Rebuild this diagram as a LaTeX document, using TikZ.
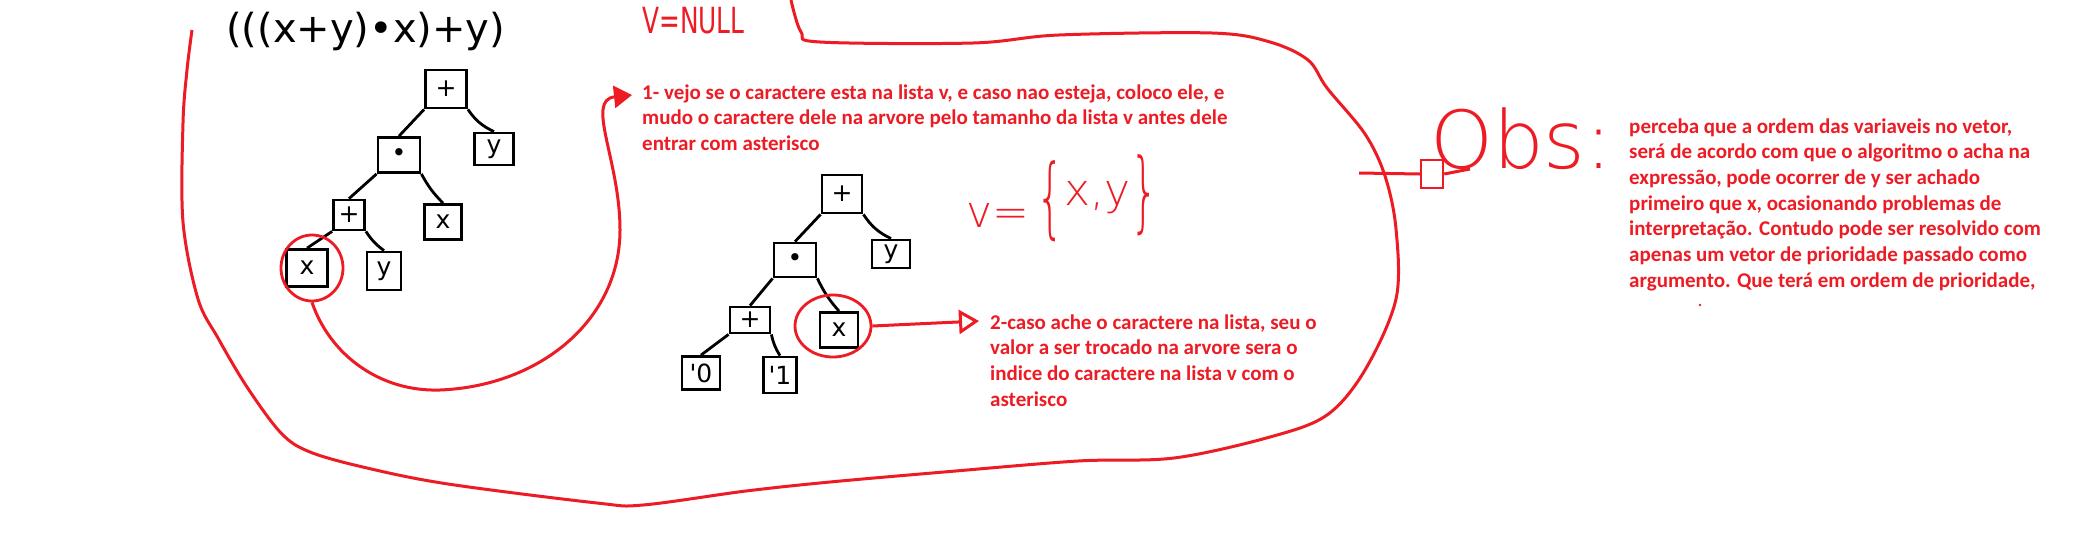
\documentclass[tikz,border=0pt]{standalone}
\usepackage{fontspec}
\usetikzlibrary{arrows.meta,shapes.geometric}
\setmainfont{Carlito}
\newfontfamily\hand{DejaVu Sans}
\IfFontExistsTF{DejaVu Sans ExtraLight}{\newfontfamily\handthin{DejaVu Sans ExtraLight}}{\newfontfamily\handthin{DejaVu Sans}}
\definecolor{pred}{RGB}{237,28,36}
\begin{document}
\begin{tikzpicture}[x=1pt,y=-1pt,
  tbox/.style={draw, line width=2.8pt, minimum width=38pt, minimum height=35pt, inner sep=0pt, font=\hand\fontsize{25}{25}\selectfont},
  tedge/.style={line width=2.8pt},
  redl/.style={draw=pred, line width=3pt},
  rcirc/.style={draw=pred, line width=2.8pt, ellipse, inner sep=0pt},
  note/.style={text=pred, font=\fontsize{21}{25.7}\selectfont\bfseries, align=left, anchor=north west, inner sep=0pt},
  hw/.style={anchor=base west, inner sep=0pt}]
\useasboundingbox (0,0) rectangle (2084,552);
\fill[white] (0,0) rectangle (2084,552);

% expression and V=NULL
\node[hw, font=\hand\fontsize{40}{40}\selectfont] (expr) at (226,42) {(((x+y)•x)+y)};
\node[hw, text=pred, font=\hand\fontsize{36}{36}\selectfont] (vnull) at (642,33) {\scalebox{0.69}[1]{V=NULL}};

% big outline
\draw[redl] plot[smooth, tension=0.55] coordinates {(192,30) (187,70) (183,123) (183,222) (198,299) (218,338) (247,387) (281,433) (310,452) (367,468) (448,484) (597,503) (643,505) (746,491) (830,482) (944,472) (1078,461) (1174,458) (1270,437) (1327,415) (1365,370) (1396,299) (1396,229) (1385,176) (1365,134) (1327,88) (1308,60) (1270,42) (1212,33) (1059,35) (973,43) (820,42) (801,32) (791,0)};

% tree 1
\node[tbox, minimum width=41pt, minimum height=38pt] (a1) at (446,89) {+};
\node[tbox, minimum width=42pt, minimum height=35pt] (a2) at (399,155) {•};
\node[tbox, minimum width=39pt, minimum height=32pt] (a3) at (494,149) {y};
\node[tbox, minimum width=31pt, minimum height=30pt] (a4) at (349,215) {+};
\node[tbox, minimum width=37pt, minimum height=35pt] (a5) at (443,222) {x};
\node[tbox, minimum width=41pt, minimum height=37pt] (a6) at (307,268) {x};
\node[tbox, minimum width=34pt, minimum height=38pt] (a7) at (384,271) {y};
\draw[tedge] (a1.south west) -- (a2.north);
\draw[tedge] (a1.south east) to[bend right=15] (a3.north);
\draw[tedge] (a2.south west) -- (a4.north);
\draw[tedge] (a2.south east) to[bend right=8] (a5.north);
\draw[tedge] (a4.south west) -- (a6.north);
\draw[tedge] (a4.south east) to[bend right=10] (a7.north);
\node[rcirc, minimum width=62pt, minimum height=66pt] (c1) at (312,268) {};

% tree 2
\node[tbox, minimum width=40pt, minimum height=38pt] (b1) at (842,194) {+};
\node[tbox, minimum width=42pt, minimum height=34pt] (b2) at (795,260) {•};
\node[tbox, minimum width=38pt, minimum height=28pt] (b3) at (891,254) {y};
\node[tbox, minimum width=40pt, minimum height=26pt] (b4) at (750,320) {+};
\node[tbox, minimum width=38pt, minimum height=35pt] (b5) at (839,330) {x};
\node[tbox, minimum width=38pt, minimum height=33pt] (b6) at (701,373) {'0};
\node[tbox, minimum width=33pt, minimum height=36pt] (b7) at (780,375) {'1};
\draw[tedge] (b1.south west) -- (b2.north);
\draw[tedge] (b1.south east) to[bend right=15] (b3.north);
\draw[tedge] (b2.south west) -- (b4.north);
\draw[tedge] (b2.south east) to[bend right=8] (b5.north);
\draw[tedge] (b4.south west) -- (b6.north);
\draw[tedge] (b4.south east) to[bend right=10] (b7.north);
\node[rcirc, minimum width=76pt, minimum height=62pt] (c2) at (833,326) {};

% v={x,y}
\node[hw, text=pred, font=\handthin\fontsize{44}{44}\selectfont] (vset) at (966,227)
  {v=\,\scalebox{1}[2]{\{}\raisebox{22pt}{x,y}\raisebox{6pt}{\scalebox{1}[2]{\}}}};

% note 1 and its arrow
\node[note] (t1) at (642,81) {\strut 1- vejo se o caractere esta na lista v, e caso nao esteja, coloco ele, e\\
\strut mudo o caractere dele na arvore pelo tamanho da lista v antes dele\\
\strut entrar com asterisco};
\coordinate (t1tip) at (632,95);
\draw[redl, -{Triangle[length=18pt,width=22pt]}] (c1.south) .. controls (330,355) and (380,392) .. (440,390) .. controls (540,386) and (620,320) .. (620,230) .. controls (620,160) and (585,100) .. (t1tip);

% note 2 and its arrow
\node[note] (t2) at (990,311) {\strut 2-caso ache o caractere na lista, seu o\\
\strut valor a ser trocado na arvore sera o\\
\strut indice do caractere na lista v com o\\
\strut asterisco};
\coordinate (t2tip) at (979,321);
\draw[redl, -{Triangle[open,length=20pt,width=24pt]}] (c2.east) -- (t2tip);

% Obs
\node[hw, text=pred, font=\handthin\fontsize{80}{80}\selectfont] (obs) at (1430,168) {Obs:};
\node[draw=pred, line width=2.5pt, minimum width=22pt, minimum height=28pt, inner sep=0pt] (obsmark) at (1432,174) {};
\coordinate (obsL) at (1359,173);
\coordinate (obsR) at (1470,169);
\draw[redl] (obsL) -- (obsmark.west);
\draw[redl] (obsmark.east) -- (obsR);
\node[note] (t3) at (1629,115) {\strut perceba que a ordem das variaveis no vetor,\\
\strut será de acordo com que o algoritmo o acha na\\
\strut expressão, pode ocorrer de y ser achado\\
\strut primeiro que x, ocasionando problemas de\\
\strut interpretação. Contudo pode ser resolvido com\\
\strut apenas um vetor de prioridade passado como\\
\strut argumento. Que terá em ordem de prioridade,};
\fill[pred] (1700,305) circle (1.3);
\end{tikzpicture}
\end{document}
